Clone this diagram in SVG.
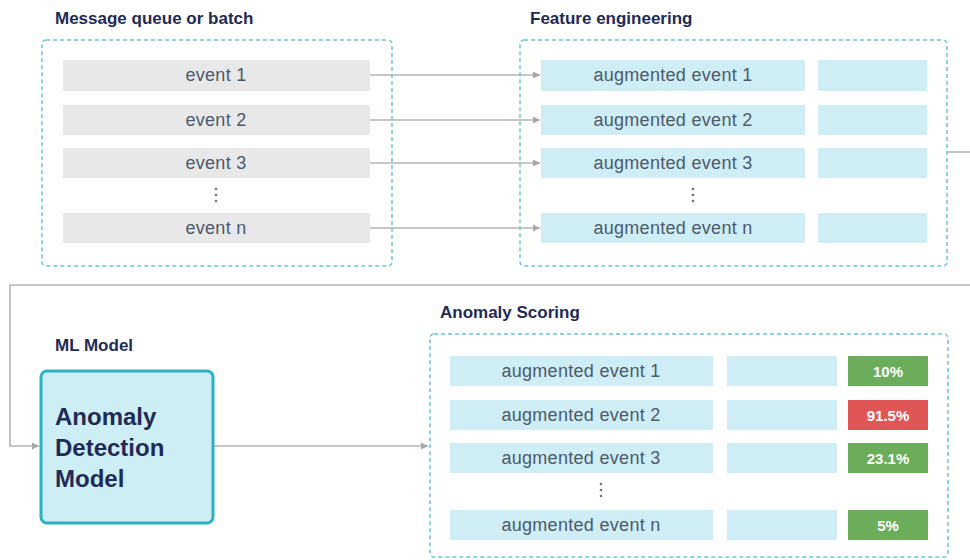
<svg xmlns="http://www.w3.org/2000/svg" width="970" height="560" viewBox="0 0 970 560">
<defs>
<style>
.lbl{font-family:"Liberation Sans",Arial,sans-serif;font-weight:bold;font-size:17px;fill:#1f2a56}
.grp{fill:none;stroke:#6cc5d3;stroke-width:1.5;stroke-dasharray:4 3}
.ev{fill:#e8e8e8}
.aug{fill:#cfedf4}
.t{font-family:"Liberation Sans",Arial,sans-serif;font-size:18px;letter-spacing:0.3px;fill:#4b5a6e;text-anchor:middle}
.sc{font-family:"Liberation Sans",Arial,sans-serif;font-size:15px;font-weight:bold;fill:#ffffff;text-anchor:middle}
.g{fill:#6cad5c}
.r{fill:#e05656}
.dot{fill:#6b7785}
.con{fill:none;stroke:#b5b5b5;stroke-width:1.6}
</style>
<marker id="ah" markerWidth="8" markerHeight="8" refX="7" refY="4" orient="auto" markerUnits="userSpaceOnUse">
<path d="M0,0.5 L7,4 L0,7.5 Z" fill="#a8a8a8"/>
</marker>
</defs>
<rect width="970" height="560" fill="#ffffff"/>

<g id="connectors">
<line class="con" x1="370" y1="75" x2="540" y2="75" marker-end="url(#ah)"/>
<line class="con" x1="370" y1="120" x2="540" y2="120" marker-end="url(#ah)"/>
<line class="con" x1="370" y1="163" x2="540" y2="163" marker-end="url(#ah)"/>
<line class="con" x1="370" y1="228" x2="540" y2="228" marker-end="url(#ah)"/>
<line class="con" x1="947" y1="152" x2="970" y2="152"/>
<polyline class="con" points="970,285 10,285 10,446 39,446" marker-end="url(#ah)"/>
<line class="con" x1="214" y1="446" x2="428" y2="446" marker-end="url(#ah)"/>
</g>

<g id="message-queue">
<text class="lbl" x="55" y="24">Message queue or batch</text>
<rect class="grp" x="42" y="40" width="350" height="226" rx="4"/>
<rect class="ev" x="63" y="60" width="307" height="31"/>
<text class="t" x="216" y="81">event 1</text>
<rect class="ev" x="63" y="105" width="307" height="30"/>
<text class="t" x="216" y="126">event 2</text>
<rect class="ev" x="63" y="148" width="307" height="30"/>
<text class="t" x="216" y="169">event 3</text>
<circle class="dot" cx="216" cy="189" r="1.3"/>
<circle class="dot" cx="216" cy="195" r="1.3"/>
<circle class="dot" cx="216" cy="201" r="1.3"/>
<rect class="ev" x="63" y="213" width="307" height="30"/>
<text class="t" x="216" y="234">event n</text>
</g>

<g id="feature-engineering">
<text class="lbl" x="530" y="24">Feature engineering</text>
<rect class="grp" x="520" y="40" width="427" height="226" rx="4"/>
<rect class="aug" x="541" y="60" width="264" height="31"/>
<rect class="aug" x="818" y="60" width="109" height="31"/>
<text class="t" x="673" y="81">augmented event 1</text>
<rect class="aug" x="541" y="105" width="264" height="30"/>
<rect class="aug" x="818" y="105" width="109" height="30"/>
<text class="t" x="673" y="126">augmented event 2</text>
<rect class="aug" x="541" y="148" width="264" height="30"/>
<rect class="aug" x="818" y="148" width="109" height="30"/>
<text class="t" x="673" y="169">augmented event 3</text>
<circle class="dot" cx="693" cy="189" r="1.3"/>
<circle class="dot" cx="693" cy="195" r="1.3"/>
<circle class="dot" cx="693" cy="201" r="1.3"/>
<rect class="aug" x="541" y="213" width="264" height="30"/>
<rect class="aug" x="818" y="213" width="109" height="30"/>
<text class="t" x="673" y="234">augmented event n</text>
</g>

<g id="ml-model">
<text class="lbl" x="55" y="351">ML Model</text>
<rect x="41" y="371" width="172" height="152" rx="6" fill="#cdeef4" stroke="#2bb0c4" stroke-width="3"/>
<text x="55" y="425" font-family="'Liberation Sans',Arial,sans-serif" font-weight="bold" font-size="24" fill="#1f2a56">Anomaly</text>
<text x="55" y="456" font-family="'Liberation Sans',Arial,sans-serif" font-weight="bold" font-size="24" fill="#1f2a56">Detection</text>
<text x="55" y="487" font-family="'Liberation Sans',Arial,sans-serif" font-weight="bold" font-size="24" fill="#1f2a56">Model</text>
</g>

<g id="anomaly-scoring">
<text class="lbl" x="440" y="318">Anomaly Scoring</text>
<rect class="grp" x="430" y="334" width="518" height="223" rx="4"/>
<rect class="aug" x="450" y="356" width="263" height="30"/>
<rect class="aug" x="727" y="356" width="110" height="30"/>
<rect class="g" x="848" y="356" width="80" height="30"/>
<text class="t" x="581" y="377">augmented event 1</text>
<text class="sc" x="888" y="377">10%</text>
<rect class="aug" x="450" y="400" width="263" height="30"/>
<rect class="aug" x="727" y="400" width="110" height="30"/>
<rect class="r" x="848" y="400" width="80" height="30"/>
<text class="t" x="581" y="421">augmented event 2</text>
<text class="sc" x="888" y="421">91.5%</text>
<rect class="aug" x="450" y="443" width="263" height="30"/>
<rect class="aug" x="727" y="443" width="110" height="30"/>
<rect class="g" x="848" y="443" width="80" height="30"/>
<text class="t" x="581" y="464">augmented event 3</text>
<text class="sc" x="888" y="464">23.1%</text>
<circle class="dot" cx="601" cy="484" r="1.3"/>
<circle class="dot" cx="601" cy="490" r="1.3"/>
<circle class="dot" cx="601" cy="496" r="1.3"/>
<rect class="aug" x="450" y="510" width="263" height="30"/>
<rect class="aug" x="727" y="510" width="110" height="30"/>
<rect class="g" x="848" y="510" width="80" height="30"/>
<text class="t" x="581" y="531">augmented event n</text>
<text class="sc" x="888" y="531">5%</text>
</g>
</svg>
